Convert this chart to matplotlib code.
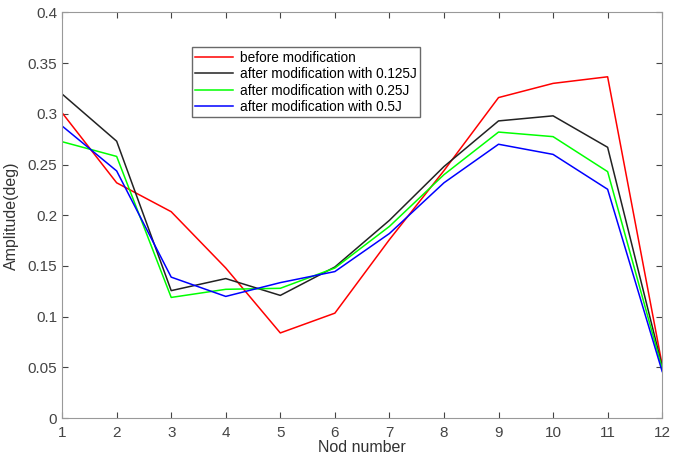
import numpy as np
import matplotlib
matplotlib.use('Agg')
import matplotlib.pyplot as plt

plt.rcParams['font.family'] = ['Liberation Sans', 'DejaVu Sans']

nodes = np.arange(1, 13)
before = [0.301, 0.232, 0.2035, 0.148, 0.084, 0.1035, 0.176, 0.244, 0.316, 0.330, 0.3365, 0.0525]
j0125 = [0.3195, 0.273, 0.1257, 0.1376, 0.121, 0.149, 0.195, 0.248, 0.293, 0.298, 0.267, 0.051]
j025 = [0.2725, 0.258, 0.119, 0.127, 0.128, 0.148, 0.189, 0.240, 0.282, 0.2775, 0.243, 0.049]
j05 = [0.288, 0.2437, 0.139, 0.120, 0.1336, 0.1445, 0.182, 0.232, 0.270, 0.260, 0.2256, 0.046]

labels = ['before modification', 'after modification with 0.125J',
          'after modification with 0.25J', 'after modification with 0.5J']

fig = plt.figure(figsize=(6.75, 4.58), dpi=100)
ax = fig.add_axes([0.092, 0.087, 0.889, 0.886])

ax.plot(nodes, before, color='#ff0000', lw=1.1, label=labels[0])
ax.plot(nodes, j0125, color='#222222', lw=1.1, label=labels[1])
ax.plot(nodes, j025, color='#00ff00', lw=1.1, label=labels[2])
ax.plot(nodes, j05, color='#0000ff', lw=1.1, label=labels[3])

ax.set_xlim(1, 12)
ax.set_ylim(0, 0.4)
ax.set_xticks(nodes)
ax.set_yticks(np.arange(0, 0.41, 0.05))
ax.set_yticklabels(['0', '0.05', '0.1', '0.15', '0.2', '0.25', '0.3', '0.35', '0.4'])
ax.tick_params(direction='in', top=True, right=True, labelsize=11, colors='#444444', length=4)
ax.tick_params(axis='x', pad=6)
for s in ax.spines.values():
    s.set_color('#999999')
    s.set_linewidth(0.8)

ax.set_xlabel('Nod number', fontsize=11.5, color='#333333', labelpad=0)
ax.set_ylabel('Amplitude(deg)', fontsize=11.5, color='#333333', labelpad=6)

leg = ax.legend(loc='upper left', bbox_to_anchor=(0.216, 0.914), fontsize=9.8,
                frameon=True, fancybox=False, handlelength=2.8, borderpad=0.25,
                labelspacing=0.18, handletextpad=0.5, borderaxespad=0)
leg.get_frame().set_edgecolor('#444444')
leg.get_frame().set_linewidth(1.0)

fig.savefig('out.png', dpi=100)
